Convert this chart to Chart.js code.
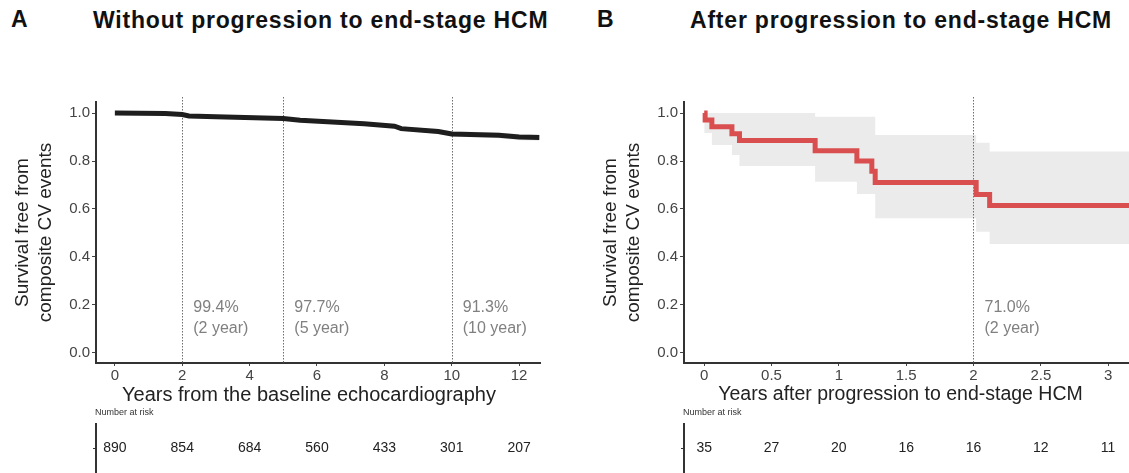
<!DOCTYPE html>
<html>
<head>
<meta charset="utf-8">
<script src="https://cdn.jsdelivr.net/npm/chart.js@4/dist/chart.umd.min.js"></script>
<style>
html,body{margin:0;padding:0;background:#fff;width:1129px;height:473px;overflow:hidden;}
body{position:relative;font-family:"Liberation Sans",Arial,sans-serif;}
canvas{position:absolute;top:0;}
#cA{left:0;}
#cB{left:564px;}
.lab{position:absolute;font-weight:bold;font-size:23px;color:#111;white-space:nowrap;line-height:26px;}
.ttl{letter-spacing:0.8px;}
</style>
</head>
<body>
<div class="lab" style="left:11px;top:6px;">A</div>
<div class="lab ttl" id="tA" style="left:93px;top:7px;"></div>
<div class="lab" style="left:597px;top:6px;">B</div>
<div class="lab ttl" id="tB" style="left:690px;top:7px;"></div>
<canvas id="cA" width="564" height="473"></canvas>
<canvas id="cB" width="565" height="473"></canvas>
<script>
// ---------- Data ----------
const titleA = 'Without progression to end-stage HCM';
const titleB = 'After progression to end-stage HCM';
const yTitle = ['Survival free from', 'composite CV events'];
const xTitleA = 'Years from the baseline echocardiography';
const xTitleB = 'Years after progression to end-stage HCM';

const yTicks = [0, 0.2, 0.4, 0.6, 0.8, 1.0];
const yTickLabels = ['0.0', '0.2', '0.4', '0.6', '0.8', '1.0'];

// Panel A
const timeA  = [0, 1.5, 2, 2.2, 3, 5, 5.5, 7.4, 8.3, 8.5, 9.6, 10, 11.4, 12, 12.6];
const survA  = [1.0, 0.998, 0.994, 0.988, 0.985, 0.977, 0.970, 0.955, 0.945, 0.935, 0.923, 0.913, 0.907, 0.900, 0.898];
const upperA = [1.0, 0.999, 0.996, 0.991, 0.989, 0.982, 0.976, 0.962, 0.953, 0.944, 0.933, 0.924, 0.919, 0.913, 0.912];
const lowerA = [1.0, 0.997, 0.991, 0.985, 0.981, 0.972, 0.964, 0.948, 0.937, 0.926, 0.913, 0.902, 0.895, 0.887, 0.884];
const xTicksA = [0, 2, 4, 6, 8, 10, 12];
const xTickLabelsA = ['0', '2', '4', '6', '8', '10', '12'];
const riskA = [890, 854, 684, 560, 433, 301, 207];
const landmarksA = [2, 5, 10];
const landmarkTextA = [['99.4%', '(2 year)'], ['97.7%', '(5 year)'], ['91.3%', '(10 year)']];

// Panel B
const timeB = [0, 0.007, 0.057, 0.206, 0.262, 0.824, 1.134, 1.245, 1.27, 2.02, 2.12, 3.155];
const survB = [1.0, 0.971, 0.943, 0.914, 0.886, 0.843, 0.800, 0.757, 0.710, 0.660, 0.615, 0.615];
const ciTimeB = [0, 0.057, 0.206, 0.262, 0.824, 1.134, 1.27, 2.02, 2.12, 3.155];
const upperB  = [1.0, 1.0, 1.0, 1.0, 0.985, 0.985, 0.908, 0.876, 0.840, 0.840];
const lowerB  = [0.917, 0.867, 0.825, 0.779, 0.714, 0.663, 0.561, 0.505, 0.454, 0.454];
const xTicksB = [0, 0.5, 1, 1.5, 2, 2.5, 3];
const xTickLabelsB = ['0', '0.5', '1', '1.5', '2', '2.5', '3'];
const riskB = [35, 27, 20, 16, 16, 12, 11];
const landmarksB = [2];
const landmarkTextB = [['71.0%', '(2 year)']];

// ---------- Rendering ----------
document.getElementById('tA').textContent = titleA;
document.getElementById('tB').textContent = titleB;

const FAMILY = '"Liberation Sans", Arial, sans-serif';
const pts = (xs, ys) => xs.map((x, i) => ({x: x, y: ys[i]}));

const kmExtras = {
  id: 'kmExtras',
  afterDatasetDraw(chart, args, opts) {
    if (args.index !== 1) return;
    const {ctx, chartArea} = chart;
    const xs = chart.scales.x;
    ctx.save();
    ctx.strokeStyle = '#6e6e6e';
    ctx.lineWidth = 1;
    ctx.setLineDash([1.5, 1.5]);
    opts.landmarks.forEach(v => {
      const px = Math.round(xs.getPixelForValue(v)) + 0.5;
      ctx.beginPath();
      ctx.moveTo(px, chartArea.top - 5);
      ctx.lineTo(px, chartArea.bottom);
      ctx.stroke();
    });
    ctx.restore();
  },
  afterDraw(chart, args, opts) {
    const {ctx, chartArea} = chart;
    const xs = chart.scales.x, ys = chart.scales.y;
    ctx.save();
    // x-axis title
    ctx.font = opts.xTitleSize + 'px ' + FAMILY;
    ctx.fillStyle = '#222';
    ctx.textAlign = 'center';
    ctx.textBaseline = 'middle';
    ctx.fillText(opts.xTitle, (chartArea.left + chartArea.right) / 2 + opts.xTitleShift, 395);
    // landmark annotations
    ctx.font = '16px ' + FAMILY;
    ctx.fillStyle = '#808080';
    ctx.textAlign = 'left';
    opts.landmarks.forEach((v, i) => {
      const px = xs.getPixelForValue(v) + 11;
      const py = ys.getPixelForValue(0.19);
      ctx.fillText(opts.landmarkText[i][0], px, py);
      ctx.fillText(opts.landmarkText[i][1], px, py + 21);
    });
    // number at risk table
    ctx.font = '9px ' + FAMILY;
    ctx.fillStyle = '#333';
    ctx.fillText('Number at risk', chartArea.left - 1, 413);
    ctx.strokeStyle = '#333';
    ctx.lineWidth = 2;
    ctx.beginPath();
    ctx.moveTo(chartArea.left, 423);
    ctx.lineTo(chartArea.left, 473);
    ctx.stroke();
    ctx.lineWidth = 1;
    ctx.beginPath();
    ctx.moveTo(chartArea.left - 3, 448.5);
    ctx.lineTo(chartArea.left, 448.5);
    ctx.stroke();
    ctx.font = '14px ' + FAMILY;
    ctx.fillStyle = '#222';
    ctx.textAlign = 'center';
    opts.risk.forEach((n, i) => {
      ctx.fillText(String(n), xs.getPixelForValue(opts.riskTicks[i]), 448);
    });
    ctx.restore();
  }
};

function makeKM(canvasId, cfg) {
  return new Chart(document.getElementById(canvasId), {
    type: 'line',
    data: {
      datasets: [
        {
          data: pts(cfg.time, cfg.surv),
          borderColor: cfg.color,
          borderWidth: 5,
          stepped: cfg.stepped,
          tension: 0,
          pointRadius: 0,
          fill: false,
          borderCapStyle: 'butt',
          borderJoinStyle: 'miter'
        },
        {
          data: pts(cfg.ciTime, cfg.upper),
          borderWidth: 0,
          borderColor: 'rgba(0,0,0,0)',
          backgroundColor: '#ebebeb',
          stepped: cfg.stepped,
          pointRadius: 0,
          fill: '+1'
        },
        {
          data: pts(cfg.ciTime, cfg.lower),
          borderWidth: 0,
          borderColor: 'rgba(0,0,0,0)',
          stepped: cfg.stepped,
          pointRadius: 0,
          fill: false
        }
      ]
    },
    options: {
      responsive: false,
      animation: false,
      devicePixelRatio: 1,
      layout: {padding: {top: 102, right: cfg.padRight, left: 0, bottom: 0}},
      plugins: {
        legend: {display: false},
        tooltip: {enabled: false},
        kmExtras: {
          landmarks: cfg.landmarks,
          landmarkText: cfg.landmarkText,
          risk: cfg.risk,
          riskTicks: cfg.xTicks,
          xTitle: cfg.xTitle,
          xTitleShift: cfg.xTitleShift,
          xTitleSize: cfg.xTitleSize
        }
      },
      scales: {
        x: {
          type: 'linear',
          min: cfg.xMin,
          max: cfg.xMax,
          afterBuildTicks: s => { s.ticks = cfg.xTicks.map(v => ({value: v})); },
          afterFit: s => { s.height = 110; },
          ticks: {
            autoSkip: false, maxRotation: 0, padding: 1,
            color: '#444',
            font: {size: 15, family: FAMILY},
            callback: (v) => cfg.xTickLabels[cfg.xTicks.indexOf(v)]
          },
          grid: {drawOnChartArea: false, drawTicks: true, tickLength: 3, color: '#444', tickWidth: 1},
          border: {display: true, color: '#333', width: 2},
          title: {display: false}
        },
        y: {
          type: 'linear',
          min: -0.042,
          max: 1.046,
          afterBuildTicks: s => { s.ticks = yTicks.map(v => ({value: v})); },
          afterFit: s => { s.width = cfg.yWidth; },
          ticks: {
            padding: 2,
            color: '#444',
            font: {size: 15, family: FAMILY},
            callback: (v) => yTickLabels[yTicks.indexOf(v)]
          },
          grid: {drawOnChartArea: false, drawTicks: true, tickLength: 4, color: '#444', tickWidth: 1},
          border: {display: true, color: '#333', width: 2},
          title: {
            display: true, text: yTitle, color: '#222',
            font: {size: 19, family: FAMILY, lineHeight: 1.2},
            padding: {top: cfg.yTitlePad, bottom: 0}
          }
        }
      }
    },
    plugins: [kmExtras]
  });
}

makeKM('cA', {
  time: timeA, surv: survA, ciTime: timeA, upper: upperA, lower: lowerA,
  color: '#1e1e1e', stepped: false,
  xMin: -0.56, xMax: 12.62, xTicks: xTicksA, xTickLabels: xTickLabelsA,
  xTitle: xTitleA, xTitleShift: -9, xTitleSize: 20, yWidth: 96, yTitlePad: 11.5, padRight: 24,
  landmarks: landmarksA, landmarkText: landmarkTextA, risk: riskA
});

makeKM('cB', {
  time: timeB, surv: survB, ciTime: ciTimeB, upper: upperB, lower: lowerB,
  color: '#d94f4f', stepped: true,
  xMin: -0.15, xMax: 3.155, xTicks: xTicksB, xTickLabels: xTickLabelsB,
  xTitle: xTitleB, xTitleShift: -6, xTitleSize: 19.5, yWidth: 120, yTitlePad: 35.5, padRight: 0,
  landmarks: landmarksB, landmarkText: landmarkTextB, risk: riskB
});
</script>
</body>
</html>
